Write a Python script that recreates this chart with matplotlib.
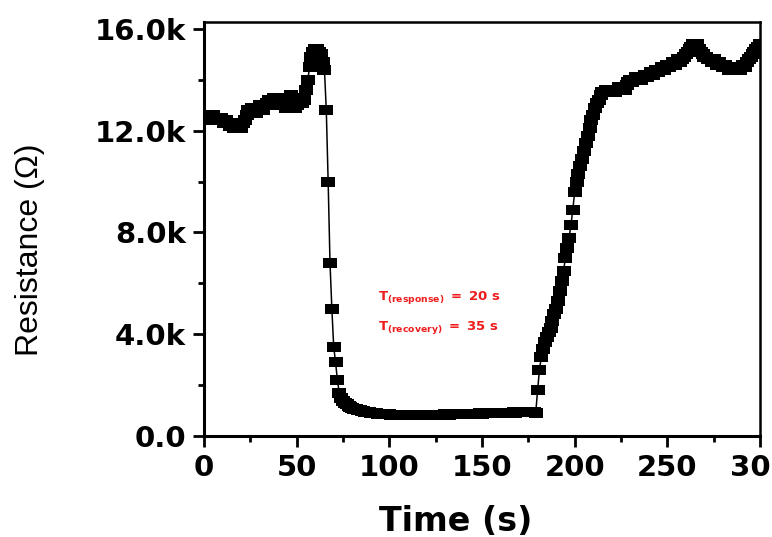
import numpy as np
import matplotlib
matplotlib.use("Agg")
import matplotlib.pyplot as plt
from matplotlib.ticker import MultipleLocator, FixedLocator

# time axis, one reading per second
time_s = np.arange(0, 301)

# resistance in kOhm (t = 0 .. 300 s)
resistance_k = [
    12.5, 12.6, 12.5, 12.4, 12.5, 12.6, 12.5, 12.4, 12.4, 12.5,   # 0
    12.4, 12.3, 12.4, 12.3, 12.2, 12.3, 12.1, 12.2, 12.1, 12.2,   # 10
    12.1, 12.3, 12.4, 12.6, 12.8, 12.7, 12.9, 12.8, 12.7, 12.9,   # 20
    13.0, 12.9, 12.8, 13.0, 13.1, 13.2, 13.0, 13.1, 13.3, 13.2,   # 30
    13.1, 13.3, 13.2, 13.0, 12.9, 13.1, 13.3, 13.4, 13.2, 12.9,   # 40
    13.0, 13.2, 13.3, 13.1, 13.2, 13.6, 14.0, 14.5, 14.9, 15.1,   # 50
    15.2, 15.2, 15.1, 15.0, 14.7, 14.4, 12.8, 10.0, 6.8, 5.0,     # 60
    3.5, 2.9, 2.2, 1.7, 1.5, 1.38, 1.3, 1.24, 1.19, 1.15,         # 70
    1.11, 1.08, 1.05, 1.03, 1.01, 0.99, 0.97, 0.95, 0.94, 0.93,   # 80
    0.92, 0.91, 0.90, 0.89, 0.88, 0.88, 0.87, 0.86, 0.86, 0.85,   # 90
    0.85, 0.84, 0.84, 0.83, 0.83, 0.82, 0.82, 0.82, 0.81, 0.81,   # 100
    0.81, 0.81, 0.81, 0.82, 0.81, 0.82, 0.82, 0.81, 0.82, 0.82,   # 110
    0.83, 0.83, 0.82, 0.83, 0.83, 0.84, 0.83, 0.84, 0.84, 0.84,   # 120
    0.85, 0.85, 0.84, 0.85, 0.85, 0.86, 0.85, 0.86, 0.86, 0.86,   # 130
    0.87, 0.86, 0.87, 0.87, 0.88, 0.87, 0.88, 0.88, 0.88, 0.89,   # 140
    0.88, 0.89, 0.89, 0.90, 0.89, 0.90, 0.90, 0.90, 0.91, 0.90,   # 150
    0.91, 0.91, 0.91, 0.92, 0.91, 0.92, 0.92, 0.93, 0.92, 0.93,   # 160
    0.93, 0.93, 0.94, 0.93, 0.94, 0.94, 0.93, 0.94, 0.93, 0.92,   # 170
    1.8, 2.6, 3.1, 3.4, 3.7, 3.9, 4.1, 4.25, 4.5, 4.8,            # 180
    5.0, 5.3, 5.7, 6.1, 6.5, 7.0, 7.4, 7.8, 8.3, 8.9,             # 190
    9.6, 10.0, 10.3, 10.6, 10.9, 11.2, 11.5, 11.8, 12.1, 12.4,    # 200
    12.6, 12.9, 13.1, 13.2, 13.4, 13.5, 13.5, 13.6, 13.5, 13.6,   # 210
    13.5, 13.6, 13.5, 13.6, 13.7, 13.6, 13.7, 13.6, 13.8, 13.9,   # 220
    14.0, 13.9, 14.0, 14.1, 14.0, 14.1, 14.0, 14.1, 14.2, 14.1,   # 230
    14.2, 14.3, 14.2, 14.3, 14.4, 14.3, 14.4, 14.5, 14.4, 14.5,   # 240
    14.6, 14.5, 14.6, 14.7, 14.6, 14.7, 14.8, 14.7, 14.8, 14.9,   # 250
    15.0, 15.1, 15.2, 15.3, 15.4, 15.3, 15.4, 15.2, 15.1, 15.0,   # 260
    14.9, 14.9, 14.8, 14.8, 14.7, 14.8, 14.7, 14.6, 14.7, 14.6,   # 270
    14.5, 14.6, 14.5, 14.4, 14.5, 14.4, 14.5, 14.4, 14.5, 14.4,   # 280
    14.5, 14.6, 14.5, 14.7, 14.8, 14.9, 15.0, 15.1, 15.2, 15.3,   # 290
    15.4,                                                         # 300
]

y_ticks = [0, 4000, 8000, 12000, 16000]
y_tick_labels = ['0.0', '4.0k', '8.0k', '12.0k', '16.0k']
x_ticks = [0, 50, 100, 150, 200, 250, 300]

notes = [r'$\mathbf{T}_{\mathbf{(response)}}\mathbf{\ =\ 20\ s}$',
         r'$\mathbf{T}_{\mathbf{(recovery)}}\mathbf{\ =\ 35\ s}$']

plt.rcParams['mathtext.fontset'] = 'dejavusans'

resistance = np.array(resistance_k) * 1000

fig = plt.figure(figsize=(7.72, 5.37), dpi=100)
ax = fig.add_axes([0.2642, 0.1881, 0.7203, 0.7709])

# wide square markers like the stretched original
box = [(-1.45, -1), (1.45, -1), (1.45, 1), (-1.45, 1), (-1.45, -1)]
ax.plot(time_s, resistance, color='black', linewidth=1.1,
        marker=box, markersize=10.4, markeredgewidth=0)

ax.set_xlim(0, 300)
ax.set_ylim(0, 16270)

ax.xaxis.set_major_locator(FixedLocator(x_ticks))
ax.xaxis.set_minor_locator(MultipleLocator(25))
ax.set_yticks(y_ticks)
ax.set_yticklabels(y_tick_labels)
ax.yaxis.set_minor_locator(MultipleLocator(2000))

for lbl in ax.get_xticklabels() + ax.get_yticklabels():
    lbl.set_fontfamily('DejaVu Sans')
    lbl.set_fontweight('bold')
    lbl.set_fontsize(21)

ax.tick_params(which='major', direction='out', length=8, width=2, pad=5)
ax.tick_params(which='minor', direction='out', length=4.5, width=2)
ax.tick_params(top=False, right=False, which='both')

for side in ['left', 'bottom']:
    ax.spines[side].set_linewidth(2.2)
for side in ['top', 'right']:
    ax.spines[side].set_linewidth(1.8)

ax.set_xlabel('Time (s)', fontfamily='DejaVu Sans', fontweight='bold', fontsize=24, va='top')
ax.xaxis.set_label_coords(0.453, -0.167)
ax.set_ylabel('Resistance (Ω)', fontfamily='Liberation Sans', fontsize=23)
ax.yaxis.set_label_coords(-0.286, 0.449)

ax.text(94, 5450, notes[0], color='#ee1c1c', fontsize=9.5, va='center', ha='left')
ax.text(94, 4270, notes[1], color='#ee1c1c', fontsize=9.5, va='center', ha='left')

plt.savefig('out.png', dpi=100)
